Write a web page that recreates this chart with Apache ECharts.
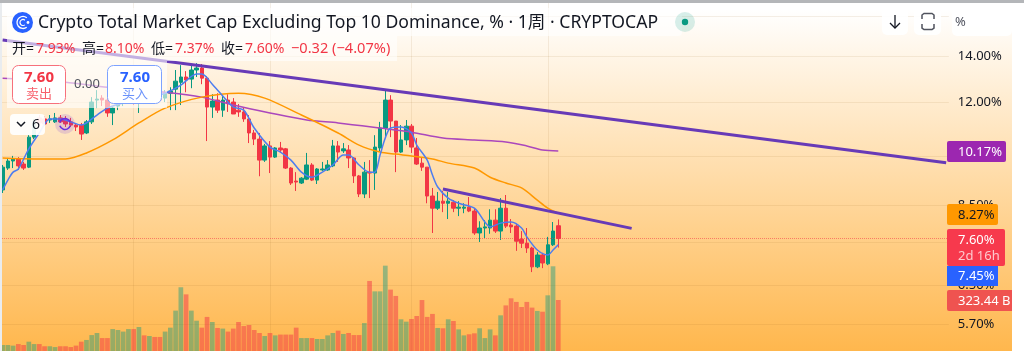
<!DOCTYPE html>
<html>
<head>
<meta charset="utf-8">
<title>Crypto Total Market Cap Excluding Top 10 Dominance</title>
<script src="https://cdn.jsdelivr.net/npm/echarts@6/dist/echarts.min.js"></script>
<style>
html,body{margin:0;padding:0;width:1024px;height:351px;overflow:hidden;background:#fff;}
#topbar{position:absolute;left:0;top:0;width:1024px;height:3px;background:#b4b6b9;}
#leftbar{position:absolute;left:0;top:3px;width:2px;height:348px;background:#e9ecef;}
#panel{position:absolute;left:2px;top:3px;width:1010px;height:348px;overflow:hidden;border-radius:6px 6px 0 0;
  background:linear-gradient(180deg,#ffffff 2%,#ffb74d 100%);}
#chart{position:absolute;left:-2px;top:-3px;width:1024px;height:351px;}
</style>
</head>
<body>
<div id="topbar"></div>
<div id="leftbar"></div>
<div id="panel"><div id="chart"></div></div>
<script>
// weekly bars (%)
const opens = [
  8.94,9.62,9.85,9.92,9.75,9.65,10.67,11.38,11.34,11.30,
  11.23,11.38,11.30,11.23,11.11,11.11,10.82,11.23,12.08,12.16,
  12.08,11.57,11.84,12.00,12.08,12.24,12.04,12.16,12.04,12.24,
  12.12,12.16,12.36,12.53,12.82,13.05,12.96,13.36,13.45,13.00,
  11.80,12.08,11.68,12.08,12.00,11.68,11.61,11.34,10.82,10.60,
  9.88,10.36,9.98,10.29,10.26,9.62,9.21,9.15,9.27,9.72,
  9.24,9.56,9.56,9.69,10.36,10.19,10.22,9.95,9.37,8.82,
  9.49,9.46,10.29,11.00,12.08,11.26,10.15,10.57,11.07,10.29,
  9.78,9.65,8.76,8.41,8.61,8.55,8.58,8.41,8.41,8.44,
  8.33,7.74,7.87,7.87,8.08,7.79,8.41,7.95,7.92,7.58,
  7.48,7.36,6.91,7.19,6.98,7.44,7.93];
const closes = [
  9.65,9.85,9.92,9.69,9.62,10.67,11.23,11.19,11.15,11.34,
  11.38,11.23,11.15,11.11,11.04,10.78,11.23,12.00,12.12,12.08,
  11.57,11.76,12.08,12.16,12.28,12.04,12.16,12.04,12.24,12.12,
  12.08,12.36,12.45,12.87,13.05,12.92,13.36,13.45,13.00,11.80,
  12.04,11.68,12.08,11.96,11.53,11.61,11.34,10.82,10.60,9.88,
  10.36,9.98,10.29,10.22,9.62,9.15,9.18,9.30,9.72,9.24,
  9.59,9.59,9.72,10.36,10.15,10.26,9.95,9.37,8.82,9.49,
  9.46,10.32,11.00,12.08,11.26,10.15,10.57,11.07,10.32,9.75,
  9.65,8.76,8.41,8.61,8.55,8.61,8.41,8.44,8.44,8.33,
  7.74,7.87,7.90,8.08,7.79,8.41,7.92,7.90,7.53,7.48,
  7.36,6.91,7.19,7.00,7.44,7.79,7.60];
const lows = [
  8.85,9.56,9.62,9.56,9.56,9.62,10.60,11.11,11.07,11.19,
  11.19,11.19,11.04,11.04,10.89,10.57,10.78,11.15,11.76,11.84,
  11.42,11.11,11.68,11.84,12.00,11.88,11.57,11.92,11.96,12.04,
  12.00,12.00,11.68,11.68,11.88,12.40,12.57,13.05,12.74,10.53,
  11.38,11.57,11.42,11.61,11.53,11.42,11.23,10.46,10.39,9.36,
  9.82,9.46,9.95,10.12,9.59,9.09,8.91,9.12,9.24,9.21,
  9.12,9.53,9.53,9.65,9.82,10.12,9.62,9.15,8.73,8.70,
  8.70,8.94,10.15,10.67,10.67,9.49,10.12,10.39,10.12,9.72,
  9.53,8.55,7.74,8.36,8.30,8.11,8.30,8.19,8.27,8.30,
  7.69,7.51,7.61,7.72,7.74,7.56,7.87,7.74,7.29,7.36,
  7.24,6.79,6.88,6.88,6.95,7.41,7.37];
const highs = [
  9.72,9.95,10.02,9.98,9.82,10.74,11.34,11.49,11.45,11.49,
  11.57,11.49,11.45,11.38,11.19,11.19,11.30,12.20,12.49,12.28,
  12.24,11.80,12.28,12.32,12.49,12.40,12.57,12.32,12.40,12.40,
  12.32,12.49,12.61,13.36,13.58,13.31,13.58,13.67,13.63,13.09,
  12.32,12.36,12.28,12.32,12.16,11.92,11.80,11.49,10.93,10.82,
  10.43,10.53,10.32,10.50,10.29,9.65,9.49,9.33,10.12,9.78,
  9.62,9.82,9.88,10.57,10.53,10.46,10.39,9.98,9.40,9.82,
  9.88,10.74,11.23,12.49,12.28,11.26,11.11,11.30,11.15,10.64,
  9.95,9.65,9.00,8.88,8.91,8.88,8.64,8.61,8.55,8.73,
  8.41,8.05,8.08,8.38,8.38,8.70,8.79,8.11,7.98,7.79,
  7.87,7.39,7.26,7.24,7.64,8.03,8.10];
// volume, billions
const volumes = [
  38,38,34,44,38,59,44,44,30,30,
  25,30,30,25,34,59,70,101,114,82,
  82,139,133,123,139,139,152,99,95,89,
  89,123,148,256,404,359,256,192,148,216,
  184,146,142,123,142,184,158,165,133,114,
  95,114,99,104,104,104,148,82,82,82,
  76,76,99,114,129,108,114,101,101,177,
  444,378,378,541,389,349,201,186,203,222,
  323,216,235,146,144,201,190,137,99,106,
  112,144,82,137,99,226,289,334,311,279,
  311,275,254,249,353,537,323.44];

// moving averages, sampled [bar index, value]
const blueMa = [[0,8.94],[1,9.24],[2,9.49],[3,9.59],[5,10.26],[7,10.82],[9,11.34],[11,11.34],[13,11.23],[15,11.11],[16,11.19],[18,11.49],[20,11.76],[23,11.96],[27,12.12],[31,12.36],[34,12.70],[37,13.18],[38,13.18],[40,12.74],[43,12.00],[44,11.80],[46,11.68],[48,11.00],[51,10.32],[53,10.15],[55,9.88],[57,9.49],[59,9.33],[61,9.49],[63,9.72],[65,10.05],[66,10.05],[68,9.72],[70,9.49],[71,9.49],[72,10.05],[73,10.64],[74,11.00],[76,11.04],[78,10.82],[79,10.39],[81,9.88],[82,9.40],[83,9.03],[85,8.70],[87,8.55],[90,8.41],[92,8.03],[93,7.90],[95,8.00],[97,8.03],[99,7.87],[100,7.64],[102,7.31],[104,7.19],[105,7.31],[106,7.44]];
const orangeMa = [[0,9.95],[6,9.92],[12,9.92],[16,10.12],[21,10.57],[26,11.19],[31,11.76],[38,12.20],[45,12.36],[50,12.16],[57,11.49],[64,10.82],[68,10.39],[72,10.15],[75,10.08],[78,10.02],[82,9.92],[85,9.78],[90,9.62],[93,9.33],[96,9.15],[99,9.00],[102,8.64],[104,8.41],[106,8.27]];
const purpleMa = [[0,13.00],[12,12.82],[20,12.61],[31,12.40],[38,12.20],[44,11.88],[51,11.57],[58,11.30],[64,11.19],[72,11.00],[78,10.85],[84,10.64],[90,10.57],[96,10.50],[100,10.36],[103,10.22],[106,10.19]];

// hand drawn trend lines
const longTrend = [[0,14.77],[180,9.79]];
const shortTrend = [[84,8.97],[120,7.86]];

const gridTicks = [16,14,12,10,8.5,7.5,6.5,5.7];
const tickLabels = [14,12,10,8.5,7.5,6.5,5.7];
const weekLines = [25,51,78,104];
const categories = Array.from({length:181},(_,i)=>String(i));

const UP = '#089981', DOWN = '#f23645';
const FONT = '"Noto Sans","Noto Sans CJK SC",sans-serif';

const candles = opens.map((o,i)=>[o,closes[i],lows[i],highs[i]]);
const volumeBars = volumes.map((v,i)=>({
  value:v,
  itemStyle:{color: closes[i]>=opens[i] ? 'rgba(8,153,129,0.42)' : 'rgba(242,54,69,0.5)'}
}));

function txt(x,y,text,fill,font,align){
  return {type:'text',z:100,silent:true,style:{x:x,y:y,text:text,fill:fill,font:font+' '+FONT,
    textAlign:align||'left',align:align||'left',textVerticalAlign:'middle',verticalAlign:'middle'}};
}
function box(x,y,w,h,fill,r,stroke){
  return {type:'rect',z:99,silent:true,shape:{x:x,y:y,width:w,height:h,r:r||0},
    style:{fill:fill,stroke:stroke||null,lineWidth:stroke?1:0}};
}
function seg(points,color,width){
  return {type:'polyline',z:101,silent:true,shape:{points:points},
    style:{stroke:color,lineWidth:width||1.5,fill:null}};
}

const last = opens.length-1;
const graphics = [
  // legend veils
  box(7,8,675,28,'rgba(255,255,255,0.6)',4),
  box(7,36,390,25,'rgba(255,255,255,0.6)',0),
  box(7,61,160,47,'rgba(255,255,255,0.6)',0),

  // logo and title
  {type:'circle',z:100,silent:true,shape:{cx:22.5,cy:22.5,r:10.5},style:{fill:'#2962ff'}},
  {type:'arc',z:101,silent:true,shape:{cx:23,cy:22.5,r:6,startAngle:0.9,endAngle:5.4},style:{stroke:'#fff',lineWidth:1.3,fill:null}},
  {type:'arc',z:101,silent:true,shape:{cx:23,cy:22.5,r:3,startAngle:0.9,endAngle:5.4},style:{stroke:'#fff',lineWidth:1.2,fill:null}},
  {type:'circle',z:101,silent:true,shape:{cx:28,cy:22.5,r:1.4},style:{fill:'#fff'}},
  txt(38,23,'Crypto Total Market Cap Excluding Top 10 Dominance, % · 1周 · CRYPTOCAP','#131722','17.6px'),
  {type:'circle',z:100,silent:true,shape:{cx:685,cy:22,r:10},style:{fill:'rgba(8,153,129,0.16)'}},
  {type:'circle',z:101,silent:true,shape:{cx:685,cy:22,r:3.2},style:{fill:UP}},

  // OHLC row
  txt(12,49,'开=','#131722','14px'),
  txt(36,49,opens[last].toFixed(2)+'%',DOWN,'14px'),
  txt(82,49,'高=','#131722','14px'),
  txt(105,49,highs[last].toFixed(2)+'%',DOWN,'14px'),
  txt(151,49,'低=','#131722','14px'),
  txt(175,49,lows[last].toFixed(2)+'%',DOWN,'14px'),
  txt(221,49,'收=','#131722','14px'),
  txt(245,49,closes[last].toFixed(2)+'%',DOWN,'14px'),
  txt(291,49,'−0.32 (−4.07%)',DOWN,'14.6px'),

  // sell and buy buttons
  box(12.5,65.5,53,38,'#fff',6,'#f7707c'),
  txt(39,78,closes[last].toFixed(2),DOWN,'bold 15px','center'),
  txt(39,94,'卖出','#f7606c','13px','center'),
  txt(87,84,'0.00','#50535e','13px','center'),
  box(107.5,65.5,54,38,'#fff',6,'#7da2ff'),
  txt(135,78,closes[last].toFixed(2),'#2962ff','bold 15px','center'),
  txt(135,94,'买入','#6a92fb','13px','center'),

  // interval box and loading spinner
  box(10,114,35,21,'rgba(255,255,255,0.92)',4),
  seg([[17,122],[21,126],[25,122]],'#131722',1.5),
  txt(32,125,'6','#131722','14px'),
  {type:'circle',z:100,silent:true,shape:{cx:65,cy:124,r:10},style:{fill:'rgba(123,60,220,0.18)'}},
  {type:'arc',z:101,silent:true,shape:{cx:65,cy:124,r:5.5,startAngle:0.3,endAngle:2.8},style:{stroke:'#6a2de0',lineWidth:1.6,fill:null}},
  {type:'arc',z:101,silent:true,shape:{cx:65,cy:124,r:5.5,startAngle:3.4,endAngle:5.9},style:{stroke:'#6a2de0',lineWidth:1.6,fill:null}},

  // top right buttons
  box(882,8,26,27,'rgba(255,255,255,0.9)',5),
  seg([[895,15],[895,28]],'#131722',1.3),
  seg([[890,23],[895,28],[900,23]],'#131722',1.3),
  box(914,8,27,27,'rgba(255,255,255,0.9)',5),
  seg([[922,19],[922,15],[924,13.5],[932,13.5],[934,15],[934,19]],'#50535e',1.5),
  seg([[922,24],[922,28],[924,29.5],[932,29.5],[934,28],[934,24]],'#50535e',1.5),
  box(952,8,60,28,'rgba(255,255,255,0.9)',5),
  txt(955,22,'%','#50535e','13px'),

  // price tags on the scale
  box(947,141,59,21,'#9c27b0',2),
  txt(958,152,'10.17%','#fff','13px'),
  box(947,204,51,21,'#ff9800',2),
  txt(958,215,'8.27%','#131722','13px'),
  box(947,229,58,37,'#f7394d',2),
  txt(958,240,closes[last].toFixed(2)+'%','#fff','13px'),
  txt(958,256,'2d 16h','rgba(255,255,255,0.72)','13px'),
  box(947,266,51,20,'#2962ff',0),
  txt(958,276,'7.45%','#fff','13px'),
  box(947,290,68,21,'#ef5350',2),
  txt(958,301,'323.44 B','#fff','13px')
];

const chart = echarts.init(document.getElementById('chart'),null,{renderer:'canvas'});
chart.setOption({
  animation:false,
  backgroundColor:'transparent',
  grid:{left:-0.5,top:0,width:949.3,height:351,containLabel:false},
  xAxis:{
    type:'category',
    data:categories,
    boundaryGap:true,
    axisLine:{show:false},
    axisTick:{show:false,alignWithLabel:true},
    axisLabel:{show:false},
    splitLine:{show:true,alignWithLabel:true,
      interval:function(i){ return weekLines.indexOf(i)>=0; },
      lineStyle:{color:'rgba(150,100,30,0.1)',width:1}}
  },
  yAxis:[{
    type:'log',
    logBase:10,
    position:'right',
    min:5.213,
    max:16.89,
    axisLine:{show:false},
    axisTick:{show:false,customValues:gridTicks},
    axisLabel:{show:true,customValues:tickLabels,margin:9,color:'#131722',fontSize:13,fontFamily:FONT,
      formatter:function(v){ return Number(v).toFixed(2)+'%'; }},
    splitLine:{show:true,lineStyle:{color:'rgba(150,100,30,0.1)',width:1}}
  },{
    type:'value',
    show:false,
    min:0,
    max:2225,
    splitLine:{show:false}
  }],
  series:[
    {type:'bar',name:'Volume',yAxisIndex:1,data:volumeBars,barWidth:4.7,z:1,silent:true},
    {type:'candlestick',name:'Dominance',data:candles,barWidth:4,z:2,silent:true,
      itemStyle:{color:UP,color0:DOWN,borderColor:UP,borderColor0:DOWN,borderWidth:1},
      markLine:{silent:true,symbol:'none',label:{show:false},
        lineStyle:{color:DOWN,type:'dotted',width:1,opacity:0.55},
        data:[{yAxis:closes[last]}]}},
    {type:'line',name:'MA long',data:purpleMa,showSymbol:false,smooth:0.3,z:3,silent:true,
      lineStyle:{color:'#ab47bc',width:1.5}},
    {type:'line',name:'MA mid',data:orangeMa,showSymbol:false,smooth:0.3,z:3,silent:true,
      lineStyle:{color:'#ff9800',width:1.5}},
    {type:'line',name:'MA short',data:blueMa,showSymbol:false,smooth:0.3,z:3,silent:true,
      lineStyle:{color:'#4d7df0',width:1.5}},
    {type:'line',name:'Trend long',data:longTrend,showSymbol:false,z:4,silent:true,
      lineStyle:{color:'#673ab7',width:3}},
    {type:'line',name:'Trend short',data:shortTrend,showSymbol:false,z:4,silent:true,
      lineStyle:{color:'#673ab7',width:3}}
  ],
  graphic:{elements:graphics}
});
</script>
</body>
</html>
